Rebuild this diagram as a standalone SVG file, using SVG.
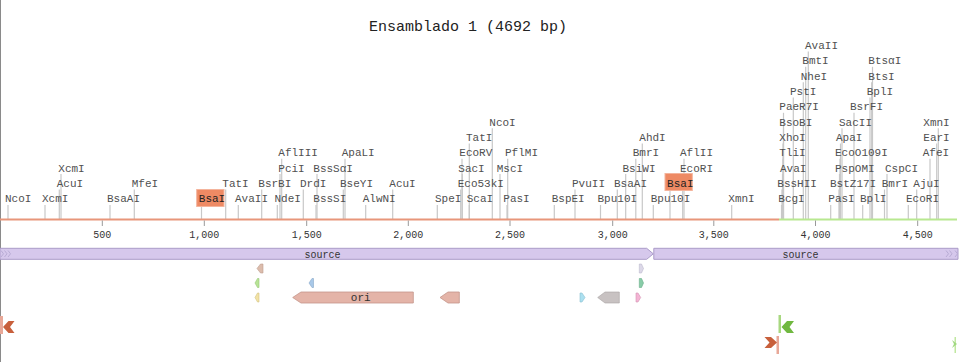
<svg xmlns="http://www.w3.org/2000/svg" width="965" height="362" viewBox="0 0 965 362">
<style>
.t{font-family:"Liberation Mono","DejaVu Sans Mono",monospace;font-size:11px;fill:#505050}
.tk{font-family:"Liberation Mono","DejaVu Sans Mono",monospace;font-size:10px;fill:#333;text-anchor:middle}
.title{font-family:"Liberation Mono","DejaVu Sans Mono",monospace;font-size:15px;fill:#222;text-anchor:middle}
.cut line{stroke:#c8c8c8;stroke-width:1.2}
.box{fill:#ee8a64;stroke:#f4b49c;stroke-width:1}
.src{fill:#d6c8ec;stroke:#ab9cc9;stroke-width:1}
.st{font-family:"Liberation Mono","DejaVu Sans Mono",monospace;font-size:10px;fill:#333;text-anchor:middle}
.ori{fill:#e4b4a8;stroke:#c4968a;stroke-width:0.8}
</style>
<rect width="965" height="362" fill="#fff"/>
<line x1="0.5" y1="0" x2="0.5" y2="362" stroke="#8a8a8a" stroke-width="1"/>
<text class="title" x="468" y="31">Ensamblado 1 (4692 bp)</text>

<g id="connectors" class="cut">
<line x1="8" y1="205" x2="8" y2="219"/>
<line x1="45" y1="205" x2="45" y2="219"/>
<line x1="110" y1="205" x2="110" y2="219"/>
<line x1="201.5" y1="206.5" x2="201.5" y2="219"/>
<line x1="238.3" y1="205" x2="238.3" y2="219"/>
<line x1="277.3" y1="205" x2="277.3" y2="219"/>
<line x1="316" y1="205" x2="316" y2="219"/>
<line x1="365.7" y1="205" x2="365.7" y2="219"/>
<line x1="437.3" y1="205" x2="437.3" y2="219"/>
<line x1="469.3" y1="205" x2="469.3" y2="219"/>
<line x1="507" y1="205" x2="507" y2="219"/>
<line x1="554.3" y1="205" x2="554.3" y2="219"/>
<line x1="600.5" y1="205" x2="600.5" y2="219"/>
<line x1="653.3" y1="205" x2="653.3" y2="219"/>
<line x1="731.7" y1="205" x2="731.7" y2="219"/>
<line x1="781.5" y1="205" x2="781.5" y2="219"/>
<line x1="830.7" y1="205" x2="830.7" y2="219"/>
<line x1="862.7" y1="205" x2="862.7" y2="219"/>
<line x1="908.3" y1="205" x2="908.3" y2="219"/>

<line x1="59.3" y1="189.5" x2="59.3" y2="219"/>
<line x1="134.3" y1="189.5" x2="134.3" y2="219"/>
<line x1="225.7" y1="189.5" x2="225.7" y2="219"/>
<line x1="261.7" y1="189.5" x2="261.7" y2="219"/>
<line x1="303.3" y1="189.5" x2="303.3" y2="219"/>
<line x1="343.3" y1="189.5" x2="343.3" y2="219"/>
<line x1="392.7" y1="189.5" x2="392.7" y2="219"/>
<line x1="460.7" y1="189.5" x2="460.7" y2="219"/>
<line x1="575" y1="189.5" x2="575" y2="219"/>
<line x1="617.3" y1="189.5" x2="617.3" y2="219"/>
<line x1="670" y1="191" x2="670" y2="219"/>
<line x1="782" y1="189.5" x2="782" y2="219"/>
<line x1="839" y1="189.5" x2="839" y2="219"/>
<line x1="884.5" y1="189.5" x2="884.5" y2="219"/>
<line x1="916.7" y1="189.5" x2="916.7" y2="219"/>

<line x1="61" y1="174" x2="61" y2="219"/>
<line x1="280" y1="174" x2="280" y2="219"/>
<line x1="317" y1="174" x2="317" y2="219"/>
<line x1="462.3" y1="174" x2="462.3" y2="219"/>
<line x1="500" y1="174" x2="500" y2="219"/>
<line x1="625.7" y1="174" x2="625.7" y2="219"/>
<line x1="682.7" y1="174" x2="682.7" y2="219"/>
<line x1="782.5" y1="174" x2="782.5" y2="219"/>
<line x1="839.5" y1="174" x2="839.5" y2="219"/>
<line x1="887" y1="174" x2="887" y2="219"/>

<line x1="281.7" y1="158.8" x2="281.7" y2="219"/>
<line x1="345" y1="158.8" x2="345" y2="219"/>
<line x1="462" y1="158.8" x2="462" y2="219"/>
<line x1="507.7" y1="158.8" x2="507.7" y2="219"/>
<line x1="635.8" y1="158.8" x2="635.8" y2="219"/>
<line x1="684" y1="158.8" x2="684" y2="219"/>
<line x1="783" y1="158.8" x2="783" y2="219"/>
<line x1="840" y1="158.8" x2="840" y2="219"/>
<line x1="930" y1="158.8" x2="930" y2="219"/>

<line x1="469.3" y1="143.5" x2="469.3" y2="219"/>
<line x1="642.3" y1="143.5" x2="642.3" y2="219"/>
<line x1="783" y1="143.5" x2="783" y2="219"/>
<line x1="840.5" y1="143.5" x2="840.5" y2="219"/>
<line x1="936.7" y1="143.5" x2="936.7" y2="219"/>

<line x1="492.3" y1="128.2" x2="492.3" y2="219"/>
<line x1="783.5" y1="128.2" x2="783.5" y2="219"/>
<line x1="842" y1="128.2" x2="842" y2="219"/>
<line x1="938.3" y1="128.2" x2="938.3" y2="219"/>

<line x1="783.5" y1="112.8" x2="783.5" y2="219"/>
<line x1="854" y1="112.8" x2="854" y2="219"/>

<line x1="793.3" y1="97.5" x2="793.3" y2="219"/>
<line x1="870" y1="97.5" x2="870" y2="219"/>

<line x1="803.3" y1="82.2" x2="803.3" y2="219"/>
<line x1="871.7" y1="82.2" x2="871.7" y2="219"/>

<line x1="805.7" y1="66.8" x2="805.7" y2="219"/>
<line x1="872.5" y1="66.8" x2="872.5" y2="219"/>

<line x1="808.3" y1="51.5" x2="808.3" y2="219"/>
</g>

<g id="backbone">
<line x1="0" y1="219.5" x2="779" y2="219.5" stroke="#e8967a" stroke-width="2"/>
<line x1="779" y1="219.5" x2="957" y2="219.5" stroke="#b8e890" stroke-width="2"/>
<g stroke="#999" stroke-width="1">
<line x1="102.3" y1="220.5" x2="102.3" y2="226"/>
<line x1="204.3" y1="220.5" x2="204.3" y2="226"/>
<line x1="306.7" y1="220.5" x2="306.7" y2="226"/>
<line x1="408.3" y1="220.5" x2="408.3" y2="226"/>
<line x1="510" y1="220.5" x2="510" y2="226"/>
<line x1="612.7" y1="220.5" x2="612.7" y2="226"/>
<line x1="713.8" y1="220.5" x2="713.8" y2="226"/>
<line x1="815.5" y1="220.5" x2="815.5" y2="226"/>
<line x1="917.7" y1="220.5" x2="917.7" y2="226"/>
</g>
<text class="tk" x="102.3" y="238">500</text>
<text class="tk" x="204.3" y="238">1,000</text>
<text class="tk" x="306.7" y="238">1,500</text>
<text class="tk" x="408.3" y="238">2,000</text>
<text class="tk" x="510" y="238">2,500</text>
<text class="tk" x="612.7" y="238">3,000</text>
<text class="tk" x="713.8" y="238">3,500</text>
<text class="tk" x="815.5" y="238">4,000</text>
<text class="tk" x="917.7" y="238">4,500</text>
</g>

<g id="labels-row0">
<text class="t" x="5" y="202.3">NcoI</text>
<text class="t" x="42" y="202.3">XcmI</text>
<text class="t" x="107" y="202.3">BsaAI</text>
<g id="bsai-1"><rect class="box" x="196.7" y="189.5" width="27.3" height="17"/><text class="t" x="198.8" y="202.3" style="fill:#222">BsaI</text></g>
<text class="t" x="235" y="202.3">AvaII</text>
<text class="t" x="274.5" y="202.3">NdeI</text>
<text class="t" x="313.3" y="202.3">BssSI</text>
<text class="t" x="362.7" y="202.3">AlwNI</text>
<text class="t" x="435" y="202.3">SpeI</text>
<text class="t" x="466.7" y="202.3">ScaI</text>
<text class="t" x="503.3" y="202.3">PasI</text>
<text class="t" x="551.7" y="202.3">BspEI</text>
<text class="t" x="597.5" y="202.3">Bpu10I</text>
<text class="t" x="650.7" y="202.3">Bpu10I</text>
<text class="t" x="728.3" y="202.3">XmnI</text>
<text class="t" x="778.3" y="202.3">BcgI</text>
<text class="t" x="828.3" y="202.3">PasI</text>
<text class="t" x="860" y="202.3">BplI</text>
<text class="t" x="906" y="202.3">EcoRI</text>
</g>
<g id="labels-row1">
<text class="t" x="56.7" y="187">AcuI</text>
<text class="t" x="131.7" y="187">MfeI</text>
<text class="t" x="222.3" y="187">TatI</text>
<text class="t" x="258.3" y="187">BsrBI</text>
<text class="t" x="300" y="187">DrdI</text>
<text class="t" x="340" y="187">BseYI</text>
<text class="t" x="389.3" y="187">AcuI</text>
<text class="t" x="457.7" y="187">Eco53kI</text>
<text class="t" x="572" y="187">PvuII</text>
<text class="t" x="614" y="187">BsaAI</text>
<g id="bsai-2"><rect class="box" x="665" y="173.5" width="27.3" height="17"/><text class="t" x="667.1" y="187" style="fill:#222">BsaI</text></g>
<text class="t" x="777.3" y="187">BssHII</text>
<text class="t" x="830" y="187">BstZ17I</text>
<text class="t" x="881.7" y="187">BmrI</text>
<text class="t" x="913.3" y="187">AjuI</text>
</g>
<g id="labels-row2">
<text class="t" x="58.3" y="171.6">XcmI</text>
<text class="t" x="278.3" y="171.6">PciI</text>
<text class="t" x="313.3" y="171.6">BssSαI</text>
<text class="t" x="458.3" y="171.6">SacI</text>
<text class="t" x="496.7" y="171.6">MscI</text>
<text class="t" x="622.5" y="171.6">BsiWI</text>
<text class="t" x="680" y="171.6">EcoRI</text>
<text class="t" x="780" y="171.6">AvaI</text>
<text class="t" x="835" y="171.6">PspOMI</text>
<text class="t" x="885" y="171.6">CspCI</text>
</g>
<g id="labels-row3">
<text class="t" x="278.3" y="156.3">AflIII</text>
<text class="t" x="341.7" y="156.3">ApaLI</text>
<text class="t" x="459.3" y="156.3">EcoRV</text>
<text class="t" x="505" y="156.3">PflMI</text>
<text class="t" x="632.7" y="156.3">BmrI</text>
<text class="t" x="680" y="156.3">AflII</text>
<text class="t" x="779.3" y="156.3">TliI</text>
<text class="t" x="835" y="156.3">EcoO109I</text>
<text class="t" x="922.7" y="156.3">AfeI</text>
</g>
<g id="labels-row4">
<text class="t" x="466" y="141">TatI</text>
<text class="t" x="639.3" y="141">AhdI</text>
<text class="t" x="779.3" y="141">XhoI</text>
<text class="t" x="836" y="141">ApaI</text>
<text class="t" x="923.3" y="141">EarI</text>
</g>
<g id="labels-row5">
<text class="t" x="489.3" y="125.7">NcoI</text>
<text class="t" x="779.3" y="125.7">BsoBI</text>
<text class="t" x="839" y="125.7">SacII</text>
<text class="t" x="923.3" y="125.7">XmnI</text>
</g>
<g id="labels-row6">
<text class="t" x="779.3" y="110.3">PaeR7I</text>
<text class="t" x="850" y="110.3">BsrFI</text>
</g>
<g id="labels-row7">
<text class="t" x="790" y="95">PstI</text>
<text class="t" x="866.7" y="95">BplI</text>
</g>
<g id="labels-row8">
<text class="t" x="800.7" y="79.7">NheI</text>
<text class="t" x="868.3" y="79.7">BtsI</text>
</g>
<g id="labels-row9">
<text class="t" x="802.3" y="64.3">BmtI</text>
<text class="t" x="868.3" y="64.3">BtsαI</text>
</g>
<g id="labels-row10">
<text class="t" x="805" y="49">AvaII</text>
</g>

<g id="source-1">
<polygon class="src" points="0,248.3 646.7,248.3 653.3,253.8 646.7,259.3 0,259.3"/>
<polyline points="1,250.5 3.5,253.8 1,257" fill="none" stroke="#b8acd4" stroke-width="1"/>
<polyline points="4.5,250.5 7,253.8 4.5,257" fill="none" stroke="#b8acd4" stroke-width="1"/>
<polyline points="8,250.5 10.5,253.8 8,257" fill="none" stroke="#b8acd4" stroke-width="1"/>
<text class="st" x="322.5" y="257.5">source</text>
</g>
<g id="source-2">
<polygon class="src" points="653.8,248.3 958,248.3 958,259.3 653.8,259.3"/>
<polyline points="946,250.5 948.5,253.8 946,257" fill="none" stroke="#b8acd4" stroke-width="1"/>
<polyline points="949.5,250.5 952,253.8 949.5,257" fill="none" stroke="#b8acd4" stroke-width="1"/>
<polyline points="955,250.5 957.5,253.8 955,257" fill="none" stroke="#b8acd4" stroke-width="1"/>
<text class="st" x="800.5" y="257.5">source</text>
</g>

<g id="features">
<polygon points="257,268.5 260.5,264 263,264 263,273 260.5,273" fill="#dcbcac" stroke="#bfa090" stroke-width="0.6"/>
<polygon points="639.3,264 641.5,264 643.5,268.5 641.5,273 639.3,273" fill="#dcd8e8" stroke="#bcb8cc" stroke-width="0.6"/>
<polygon points="255,283 257.5,278.5 259,278.5 259,287.5 257.5,287.5" fill="#b8e496" stroke="#98c878" stroke-width="0.6"/>
<polygon points="309,283 312,278.5 313.5,278.5 313.5,287.5 312,287.5" fill="#a8c8e8" stroke="#88a8c8" stroke-width="0.6"/>
<polygon points="639.3,278.5 641.5,278.5 643.5,283 641.5,287.5 639.3,287.5" fill="#88cca8" stroke="#68ac88" stroke-width="0.6"/>
<polygon points="255,297.5 257.5,293 259,293 259,302 257.5,302" fill="#f2e2a4" stroke="#d4c484" stroke-width="0.6"/>
<g id="ori">
<polygon class="ori" points="292.7,297.5 301,292 413.3,292 413.3,303 301,303"/>
<text class="st" x="360.7" y="301.2" style="font-size:11px">ori</text>
</g>
<polygon class="ori" points="440,297.5 448,292 459.3,292 459.3,303 448,303"/>
<polygon points="580,293 582,293 585,297.5 582,302 580,302" fill="#ace0f0" stroke="#8cc0d0" stroke-width="0.6"/>
<polygon points="597.7,297.5 605,292 619.3,292 619.3,303 605,303" fill="#c8c2c2" stroke="#a8a2a2" stroke-width="0.6"/>
<polygon points="636,293 638,293 640.7,297.5 638,302 636,302" fill="#f4b4d4" stroke="#d494b4" stroke-width="0.6"/>
</g>

<g id="markers">
<rect x="0" y="316" width="3" height="18" fill="#e8a898"/>
<polygon points="3,327 8.5,321 14.5,321 10,327 14.5,333 8.5,333" fill="#c8603c"/>
<rect x="778.5" y="315" width="2.5" height="18" fill="#a8d880"/>
<polygon points="781.5,327 787,321 794,321 789.5,327 794,333 787,333" fill="#70b840"/>
<rect x="776.5" y="336" width="2.5" height="18" fill="#e8a898"/>
<polygon points="777,342.5 771,337 764.5,337 769.5,342.5 764.5,348 771,348" fill="#c8603c"/>
<rect x="954.5" y="337" width="1.5" height="16" fill="#c0e8a0"/>
<polygon points="952,340 957,344 952,348 954,344" fill="#a0d880"/>
</g>
</svg>
